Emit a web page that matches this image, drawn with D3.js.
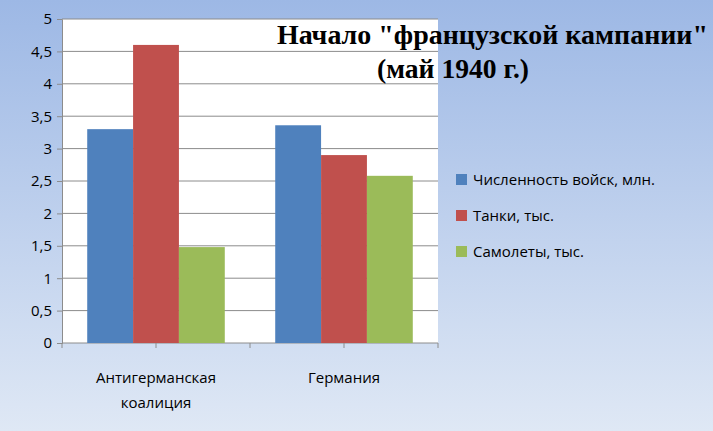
<!DOCTYPE html><html><head><meta charset="utf-8"><script src="https://cdn.jsdelivr.net/npm/d3@7"></script>
<style>body{margin:0}</style></head><body><script>
const categories=["Антигерманская коалиция","Германия"];
const seriesNames=["Численность войск, млн.","Танки, тыс.","Самолеты, тыс."];
const troops=[3.3,3.36];
const tanks=[4.6,2.9];
const planes=[1.48,2.58];
const yTicks=[0,0.5,1,1.5,2,2.5,3,3.5,4,4.5,5];
const colors=["#4f81bd","#c0504d","#9bbb59"];
const W=713,H=431;
const svg=d3.select("body").append("svg").attr("width",W).attr("height",H);
const g0=svg.append("defs").append("linearGradient").attr("id","bg").attr("x1",0).attr("y1",0).attr("x2",0).attr("y2",1);
g0.append("stop").attr("offset",0).attr("stop-color","#9db8e5");
g0.append("stop").attr("offset",1).attr("stop-color","#dfe8f5");
svg.append("rect").attr("width",W).attr("height",H).attr("fill","url(#bg)");
const L=62,R=438,T=19,B=343;
svg.append("rect").attr("x",L).attr("y",T).attr("width",R-L).attr("height",B-T).attr("fill","#fff");
const y=d3.scaleLinear().domain([0,5]).range([B,T]);
const x=d3.scaleBand().domain(categories).range([L,R]);
const xs=d3.scaleBand().domain([0,1,2]).range([0,x.bandwidth()]).paddingInner(0).paddingOuter(0.55);
svg.append("g").selectAll("line").data(yTicks.slice(1)).join("line").attr("x1",L).attr("x2",R).attr("y1",d=>y(d)).attr("y2",d=>y(d)).attr("stroke","#8c8c8c");
const ya=svg.append("g").attr("transform",`translate(${L},0)`).call(d3.axisLeft(y).tickValues(yTicks).tickSize(5).tickFormat(d=>String(d).replace(".",",")));
ya.selectAll("text").attr("font-family","Open Sans").attr("font-size",15).attr("fill","#000").attr("dx",-2);
ya.selectAll("path,line").attr("stroke","#8c8c8c");
const xa=svg.append("g").attr("transform",`translate(0,${B})`).call(d3.axisBottom(x).tickSize(5).tickFormat(""));
xa.selectAll("path,line").attr("stroke","#8c8c8c");
xa.select("path").attr("d",`M${L},0H${R}`);
svg.append("g").selectAll("line").data([L,(L+R)/2,R]).join("line").attr("x1",d=>d).attr("x2",d=>d).attr("y1",B).attr("y2",B+5).attr("stroke","#8c8c8c");
const series=[troops,tanks,planes];
series.forEach((s,i)=>{
 svg.append("g").selectAll("rect").data(s).join("rect")
 .attr("x",(d,j)=>x(categories[j])+xs(i)).attr("width",xs.bandwidth())
 .attr("y",d=>y(d)).attr("height",d=>B-y(d)).attr("fill",colors[i]);
});
const lab=[["Антигерманская","коалиция"],["Германия"]];
categories.forEach((c,j)=>{
 lab[j].forEach((t,k)=>svg.append("text").attr("x",x(c)+x.bandwidth()/2).attr("y",383+k*25).attr("text-anchor","middle")
 .attr("font-family","Open Sans").attr("font-size",15).text(t));
});
seriesNames.forEach((n,i)=>{
 const yy=180+i*36;
 svg.append("rect").attr("x",456).attr("y",yy-6).attr("width",11).attr("height",11).attr("fill",colors[i]);
 svg.append("text").attr("x",473).attr("y",yy+5).attr("font-family","Open Sans").attr("font-size",15).text(n);
});
svg.append("text").attr("x",277).attr("y",44).attr("textLength",431).attr("lengthAdjust","spacingAndGlyphs")
 .attr("font-family","Liberation Serif").attr("font-weight","bold").attr("font-size",27).text('Начало "французской кампании"');
svg.append("text").attr("x",377).attr("y",78).attr("textLength",152).attr("lengthAdjust","spacingAndGlyphs")
 .attr("font-family","Liberation Serif").attr("font-weight","bold").attr("font-size",27).text('(май 1940 г.)');
</script></body></html>
